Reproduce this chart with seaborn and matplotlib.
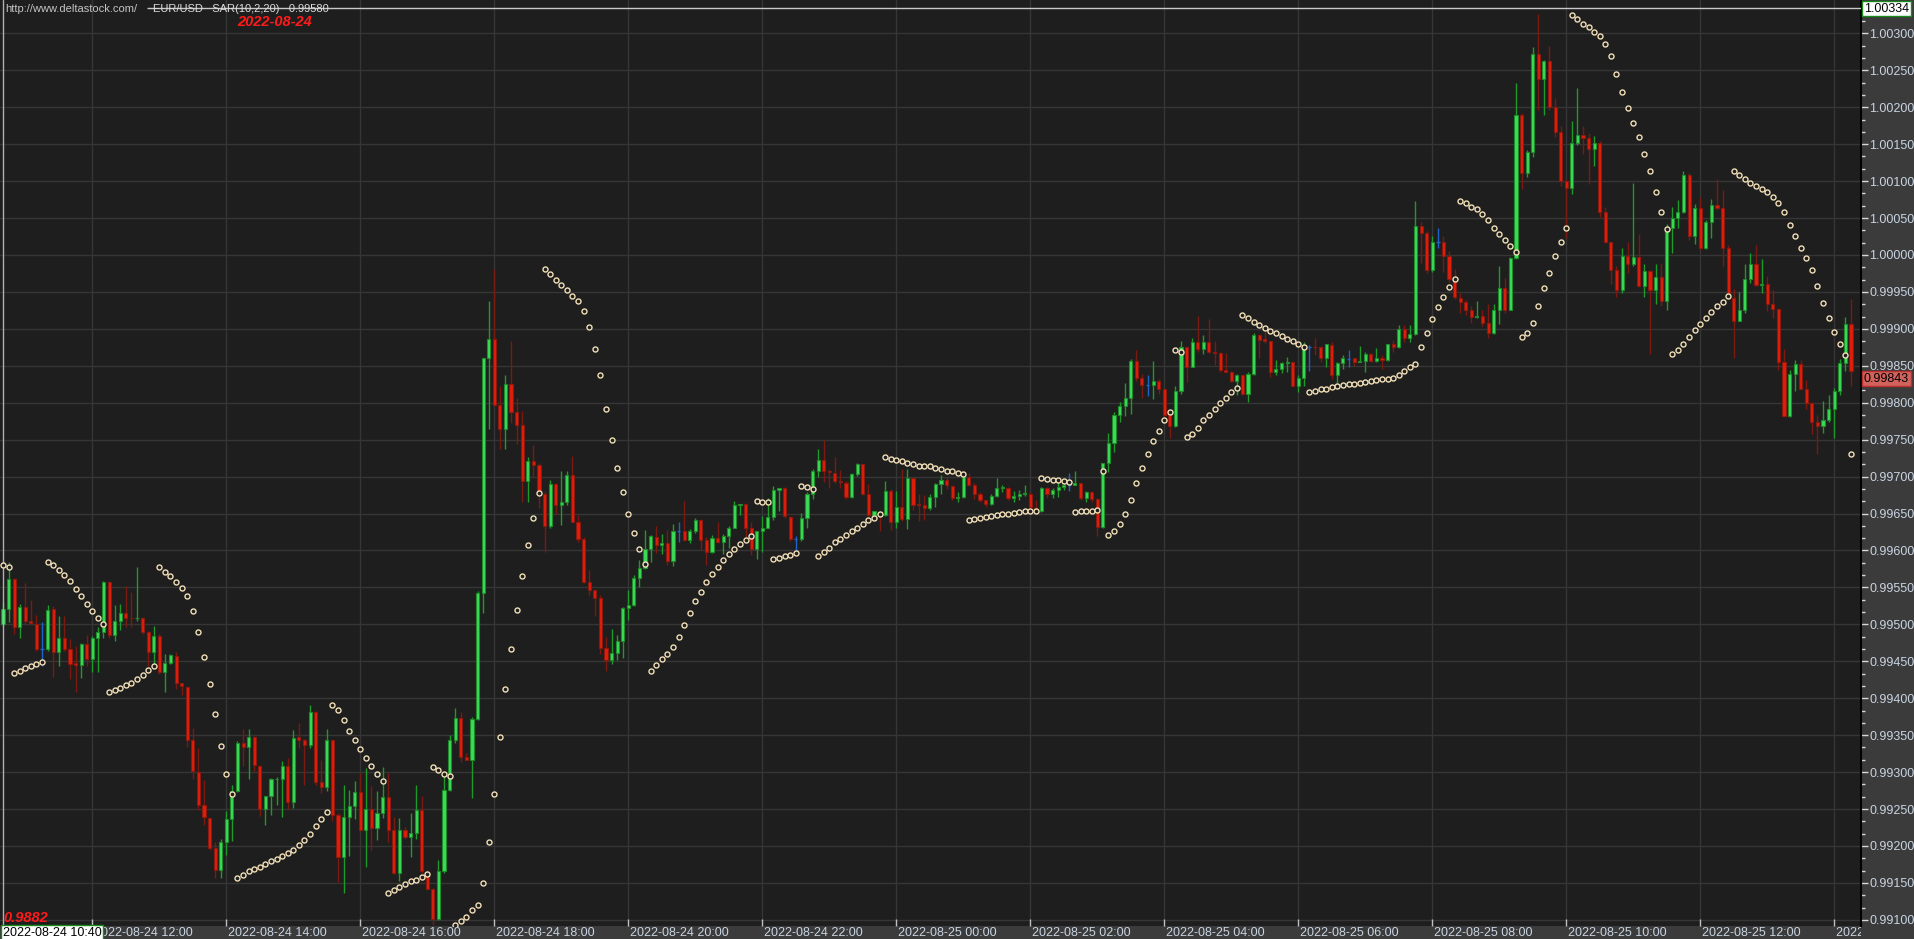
import numpy as np
import pandas as pd
import matplotlib
matplotlib.use("Agg")
import matplotlib.pyplot as plt
import matplotlib.transforms as mtransforms
from matplotlib import font_manager
import seaborn as sns

sns.set_theme(style="dark")
_names = {f.name for f in font_manager.fontManager.ttflist}
AXIS_FONT = "Liberation Sans Narrow" if "Liberation Sans Narrow" in _names else "Liberation Sans"
plt.rcParams["font.family"] = [AXIS_FONT, "DejaVu Sans"]

# ---------------- data (prices in points above 0.99000; 1 point = 0.00001) ----------------
symbol = "EUR/USD"
indicator = "SAR(10,2,20)"
indicator_value = "0.99580"
start_time = "2022-08-24 10:40"
bar_minutes = 5
top_price = 1.00334
last_price = 0.99843

opens = [
    500, 521, 562, 496, 524, 505, 501, 467, 467, 521,
    463, 482, 466, 448, 445, 474, 453, 481, 489, 557,
    486, 504, 515, 509, 508, 508, 489, 462, 484, 435,
    448, 457, 420, 415, 343, 300, 256, 238, 197, 168,
    205, 236, 274, 340, 334, 348, 308, 250, 267, 290,
    290, 308, 259, 347, 344, 337, 381, 287, 280, 343,
    242, 185, 239, 254, 273, 222, 250, 224, 245, 266,
    222, 164, 222, 212, 218, 249, 164, 142, 101, 166,
    276, 343, 373, 321, 317, 372, 542, 860, 886, 797,
    764, 825, 788, 770, 694, 721, 716, 677, 633, 690,
    662, 665, 702, 639, 615, 557, 547, 535, 468, 452,
    461, 477, 522, 526, 563, 576, 602, 618, 607, 610,
    586, 626, 626, 614, 626, 641, 614, 598, 617, 611,
    620, 631, 662, 663, 631, 602, 626, 631, 645, 682,
    685, 645, 615, 615, 644, 677, 708, 722, 707, 705,
    694, 692, 672, 703, 717, 677, 648, 652, 648, 681,
    638, 659, 643, 698, 663, 662, 657, 673, 690, 695,
    687, 671, 673, 700, 689, 677, 668, 663, 674, 685,
    685, 671, 674, 677, 677, 657, 653, 685, 677, 682,
    686, 689, 689, 691, 671, 679, 669, 632, 718, 746,
    783, 796, 807, 857, 834, 824, 824, 830, 818, 783,
    769, 816, 876, 849, 882, 873, 882, 869, 867, 844,
    842, 830, 837, 812, 839, 891, 886, 883, 842, 846,
    854, 855, 823, 834, 876, 876, 875, 861, 878, 837,
    854, 859, 860, 855, 857, 866, 857, 861, 858, 879,
    876, 900, 888, 893, 1039, 1030, 980, 1017, 1017, 998,
    967, 942, 936, 926, 916, 917, 908, 895, 926, 955,
    926, 996, 1190, 1111, 1140, 1272, 1238, 1262, 1200, 1166,
    1100, 1090, 1151, 1163, 1158, 1143, 1152, 1058, 1017, 979,
    952, 998, 988, 997, 958, 978, 953, 970, 938, 1037,
    1050, 1058, 1108, 1026, 1063, 1009, 1045, 1067, 1063, 1009,
    942, 911, 925, 967, 988, 960, 961, 934, 927, 855,
    782, 839, 853, 819, 799, 774, 768, 776, 792, 816,
    854, 907,
]
highs = [
    530, 584, 563, 528, 556, 533, 512, 503, 526, 525,
    511, 511, 480, 471, 475, 485, 484, 496, 559, 559,
    526, 528, 552, 544, 577, 510, 491, 498, 487, 460,
    460, 462, 421, 417, 360, 333, 289, 238, 206, 209,
    248, 282, 342, 358, 358, 349, 310, 268, 292, 294,
    315, 319, 357, 366, 345, 391, 383, 316, 359, 344,
    245, 283, 276, 288, 299, 305, 281, 274, 307, 299,
    239, 238, 226, 245, 283, 268, 168, 143, 181, 295,
    350, 387, 381, 326, 375, 545, 860, 938, 981, 822,
    838, 884, 807, 789, 727, 743, 718, 680, 695, 691,
    708, 707, 728, 648, 618, 573, 547, 540, 483, 494,
    486, 524, 547, 567, 587, 628, 621, 633, 622, 628,
    636, 638, 667, 629, 644, 642, 618, 621, 638, 622,
    633, 667, 663, 664, 638, 627, 646, 671, 687, 685,
    686, 646, 620, 651, 679, 710, 737, 749, 710, 726,
    709, 694, 705, 718, 717, 690, 654, 653, 694, 683,
    680, 710, 710, 699, 676, 675, 677, 691, 702, 700,
    689, 679, 702, 705, 691, 679, 668, 677, 698, 689,
    686, 680, 682, 688, 679, 668, 686, 686, 684, 696,
    691, 705, 708, 692, 680, 680, 671, 719, 759, 787,
    801, 827, 859, 871, 839, 837, 857, 832, 818, 785,
    823, 884, 877, 888, 918, 891, 913, 883, 869, 867,
    843, 839, 837, 842, 894, 893, 896, 884, 858, 855,
    862, 855, 837, 882, 878, 887, 877, 880, 882, 855,
    864, 872, 861, 877, 868, 867, 874, 864, 880, 885,
    905, 905, 905, 1073, 1045, 1032, 1026, 1036, 1026, 1005,
    981, 949, 939, 931, 938, 926, 933, 934, 985, 969,
    997, 1233, 1192, 1142, 1281, 1326, 1264, 1283, 1212, 1174,
    1102, 1181, 1226, 1175, 1165, 1161, 1154, 1065, 1018, 985,
    1009, 1017, 1098, 1029, 988, 980, 988, 989, 1042, 1065,
    1075, 1113, 1111, 1069, 1078, 1047, 1076, 1103, 1088, 1013,
    954, 950, 988, 1003, 1014, 995, 971, 953, 928, 873,
    844, 858, 858, 831, 801, 784, 802, 810, 820, 859,
    916, 940,
]
lows = [
    498, 503, 487, 482, 500, 499, 464, 443, 464, 429,
    444, 464, 426, 409, 428, 444, 436, 435, 481, 481,
    478, 493, 496, 496, 505, 487, 444, 444, 433, 409,
    447, 413, 405, 334, 290, 249, 229, 195, 157, 156,
    188, 207, 273, 308, 290, 301, 240, 228, 242, 256,
    239, 250, 252, 332, 283, 333, 283, 272, 275, 234,
    151, 137, 186, 236, 220, 171, 194, 208, 238, 206,
    162, 153, 209, 185, 209, 164, 141, 93, 100, 164,
    274, 340, 314, 316, 265, 370, 515, 765, 795, 737,
    737, 772, 744, 666, 666, 700, 657, 598, 631, 650,
    634, 662, 638, 612, 556, 540, 511, 460, 437, 447,
    452, 454, 506, 525, 550, 575, 584, 597, 595, 581,
    579, 612, 613, 610, 623, 601, 581, 596, 610, 595,
    604, 630, 648, 618, 594, 588, 598, 630, 641, 654,
    644, 613, 595, 613, 631, 669, 700, 693, 685, 692,
    684, 670, 671, 701, 675, 647, 647, 627, 647, 628,
    631, 640, 629, 655, 640, 641, 655, 659, 677, 683,
    668, 665, 671, 687, 670, 665, 659, 661, 673, 679,
    668, 665, 668, 674, 652, 653, 652, 671, 671, 672,
    682, 681, 688, 668, 665, 665, 620, 630, 706, 733,
    774, 782, 785, 830, 807, 809, 805, 812, 780, 752,
    767, 812, 828, 848, 868, 866, 867, 851, 841, 841,
    828, 810, 810, 801, 837, 861, 881, 835, 837, 840,
    841, 822, 815, 823, 843, 864, 855, 849, 832, 827,
    846, 848, 850, 855, 842, 855, 855, 846, 857, 869,
    874, 882, 882, 891, 989, 976, 977, 1009, 977, 963,
    941, 922, 919, 908, 915, 904, 888, 893, 907, 922,
    925, 995, 1089, 1106, 1132, 1196, 1190, 1196, 1159, 1094,
    1023, 1083, 1149, 1136, 1096, 1121, 1052, 1016, 961, 943,
    949, 976, 985, 957, 943, 866, 933, 931, 926, 1003,
    1036, 1057, 1020, 1015, 1007, 1008, 1023, 1061, 985, 940,
    861, 910, 922, 962, 958, 949, 924, 915, 844, 781,
    781, 816, 818, 791, 757, 731, 759, 774, 752, 811,
    843, 822,
]
closes = [
    521, 562, 496, 524, 504, 502, 467, 467, 520, 463,
    482, 467, 447, 445, 474, 453, 481, 489, 557, 486,
    504, 515, 509, 508, 509, 489, 463, 484, 435, 448,
    458, 420, 417, 343, 301, 256, 239, 197, 168, 205,
    236, 274, 340, 334, 348, 309, 250, 267, 290, 291,
    308, 259, 346, 344, 337, 381, 287, 280, 343, 242,
    185, 239, 254, 273, 222, 250, 224, 245, 266, 222,
    164, 222, 212, 218, 249, 166, 142, 101, 166, 276,
    343, 373, 321, 317, 372, 543, 860, 886, 797, 764,
    825, 788, 770, 694, 721, 716, 678, 633, 690, 662,
    665, 702, 639, 616, 557, 547, 535, 468, 452, 461,
    477, 522, 526, 563, 576, 602, 619, 607, 610, 586,
    626, 626, 614, 626, 641, 614, 598, 617, 611, 620,
    631, 661, 663, 631, 602, 626, 631, 645, 682, 685,
    646, 615, 615, 644, 677, 708, 722, 708, 706, 694,
    693, 672, 703, 717, 677, 648, 653, 648, 681, 638,
    659, 643, 698, 662, 662, 657, 673, 690, 695, 688,
    671, 673, 700, 689, 677, 668, 663, 674, 685, 686,
    671, 674, 677, 678, 659, 653, 685, 677, 682, 686,
    689, 689, 691, 671, 679, 669, 632, 718, 746, 783,
    796, 807, 857, 834, 824, 824, 830, 818, 783, 769,
    816, 876, 849, 882, 873, 882, 869, 867, 844, 842,
    830, 837, 812, 839, 891, 885, 883, 842, 846, 854,
    855, 823, 834, 878, 876, 875, 861, 879, 837, 854,
    860, 859, 855, 857, 866, 857, 861, 858, 879, 876,
    900, 888, 893, 1039, 1030, 980, 1017, 1017, 998, 967,
    943, 936, 926, 916, 917, 908, 895, 926, 955, 926,
    996, 1190, 1111, 1140, 1272, 1238, 1262, 1200, 1166, 1100,
    1090, 1151, 1163, 1158, 1143, 1152, 1058, 1017, 979, 952,
    998, 988, 997, 958, 978, 953, 970, 938, 1037, 1050,
    1058, 1108, 1026, 1063, 1009, 1045, 1067, 1063, 1009, 945,
    911, 925, 967, 988, 960, 961, 934, 927, 855, 782,
    839, 853, 819, 799, 774, 768, 776, 792, 816, 854,
    907, 843,
]
sar = [
    581, 578, 434, 437, 441, 444, 447, 449, 585, 580,
    573, 567, 559, 548, 538, 527, 518, 509, 501, 409,
    411, 414, 418, 421, 426, 432, 438, 444, 577, 571,
    565, 558, 549, 538, 518, 490, 456, 419, 379, 335,
    298, 270, 156, 161, 166, 169, 172, 176, 180, 183,
    187, 191, 194, 201, 208, 216, 227, 237, 246, 391,
    384, 370, 356, 343, 331, 319, 308, 298, 288, 137,
    141, 144, 148, 152, 154, 158, 162, 307, 303, 298,
    295, 93, 98, 104, 113, 120, 150, 205, 270, 347,
    412, 467, 519, 565, 607, 644, 678, 981, 974, 966,
    960, 952, 945, 938, 924, 902, 873, 837, 792, 749,
    712, 679, 650, 624, 602, 582, 437, 445, 453, 460,
    470, 483, 499, 516, 531, 544, 557, 568, 578, 587,
    595, 602, 609, 614, 620, 667, 666, 665, 589, 590,
    593, 594, 596, 687, 686, 683, 593, 598, 604, 611,
    616, 621, 626, 631, 636, 641, 644, 649, 727, 724,
    723, 721, 718, 717, 715, 715, 714, 711, 710, 708,
    707, 705, 704, 641, 643, 644, 645, 646, 648, 649,
    650, 651, 652, 653, 654, 654, 698, 697, 696, 695,
    694, 693, 652, 653, 654, 654, 655, 708, 621, 627,
    636, 650, 668, 691, 712, 731, 748, 762, 776, 787,
    871, 869, 753, 758, 766, 776, 784, 792, 800, 806,
    814, 820, 919, 915, 909, 905, 901, 897, 894, 890,
    886, 883, 880, 876, 815, 816, 818, 819, 821, 823,
    824, 825, 826, 827, 828, 830, 831, 832, 832, 834,
    837, 843, 848, 853, 875, 895, 913, 929, 943, 956,
    968, 1073, 1070, 1065, 1062, 1056, 1047, 1037, 1029, 1020,
    1012, 1004, 889, 895, 908, 931, 955, 976, 998, 1017,
    1036, 1325, 1319, 1313, 1308, 1302, 1297, 1286, 1269, 1245,
    1221, 1199, 1178, 1159, 1137, 1114, 1085, 1058, 1035, 866,
    871, 880, 889, 898, 907, 915, 923, 931, 937, 945,
    1113, 1108, 1103, 1098, 1094, 1089, 1085, 1079, 1071, 1058,
    1040, 1025, 1010, 996, 979, 958, 935, 914, 896, 880,
    864, 731,
]

BASE, POINT = 0.99, 1e-5
o = BASE + np.array(opens) * POINT
h = BASE + np.array(highs) * POINT
l = BASE + np.array(lows) * POINT
c = BASE + np.array(closes) * POINT
s = BASE + np.array(sar) * POINT
n = len(o)
times = pd.date_range(start_time, periods=n, freq=f"{bar_minutes}min")
df = pd.DataFrame({"t": times, "i": np.arange(n), "open": o, "high": h,
                   "low": l, "close": c, "sar": s})

# ---------------- figure / layout ----------------
W, H = 1915, 939
PLOT_R, PLOT_B = 1861, 926
BAR_PX, X0_PX = 5.583, 3.0
BG = "#1e1e1e"
PANEL = "#3b3b3b"
XLIM = ((0 - X0_PX) / BAR_PX, (PLOT_R - X0_PX) / BAR_PX)
YLIM = (0.990917, 1.003451)

fig = plt.figure(figsize=(W / 100, H / 100), dpi=100, facecolor=PANEL)
ax = fig.add_axes([0, (H - PLOT_B) / H, PLOT_R / W, PLOT_B / H])
ax.set_facecolor(BG)

# grid
for lev in np.arange(0.9910, 1.00301, 0.0005):
    ax.axhline(lev, color="#363636", lw=1.0, zorder=0)
label_idx = [i for i in range(n) if times[i].minute == 0 and times[i].hour % 2 == 0]
for i in label_idx:
    ax.axvline(i, color="#363636", lw=1.0, zorder=0)

# candles
up = df["close"] > df["open"]
dn = df["close"] < df["open"]
eq = df["close"] == df["open"]
GREEN_FILL, GREEN_EDGE, GREEN_WICK = "#3cdc5a", "#1e8c28", "#1e9a2a"
RED_FILL, RED_EDGE, RED_WICK = "#e11e0a", "#8c190f", "#7a1a10"
BLUE = "#1e64c8"

ax.vlines(df["i"][up], df["low"][up], df["high"][up], color=GREEN_WICK, lw=1.0, zorder=2)
ax.vlines(df["i"][dn], df["low"][dn], df["high"][dn], color=RED_WICK, lw=1.0, zorder=2)
ax.vlines(df["i"][eq], df["low"][eq], df["high"][eq], color=BLUE, lw=1.0, zorder=2)
ax.bar(df["i"][up], (df["close"] - df["open"])[up], bottom=df["open"][up], width=0.56,
       color=GREEN_FILL, edgecolor=GREEN_EDGE, linewidth=0.8, zorder=3)
ax.bar(df["i"][dn], (df["open"] - df["close"])[dn], bottom=df["close"][dn], width=0.56,
       color=RED_FILL, edgecolor=RED_EDGE, linewidth=0.8, zorder=3)
ax.hlines(df["close"][eq], df["i"][eq] - 0.3, df["i"][eq] + 0.3, color=BLUE, lw=1.0, zorder=3)

# parabolic SAR dots
sns.scatterplot(data=df, x="i", y="sar", ax=ax, marker="o", s=13, color=BG,
                edgecolor="#f2dfb8", linewidth=1.0, zorder=5, legend=False)

# top price line (starts after the site caption) and left border
ax.hlines(top_price, (147 - X0_PX) / BAR_PX, XLIM[1], color="#c8c8c8", lw=1.0, zorder=4)
ax.axvline((2.7 - X0_PX) / BAR_PX, color="#b0b0b0", lw=1.0, zorder=4)

# axes styling
for side in ["top", "left", "bottom"]:
    ax.spines[side].set_visible(False)
ax.spines["right"].set_visible(True)
ax.spines["right"].set_color("black")
ax.spines["right"].set_linewidth(1.5)
ax.set_xlabel("")
ax.set_ylabel("")
ax.yaxis.tick_right()
major = np.round(np.arange(0.9910, 1.00301, 0.0005), 5)
ax.set_yticks(major)
ax.set_yticklabels([f"{v:.5f}" for v in major])
minor = [v + k * 0.0005 / 3 for v in np.arange(0.9905, 1.0035, 0.0005) for k in (1, 2)]
ax.set_yticks(minor, minor=True)
ax.tick_params(axis="y", which="major", direction="out", length=5, width=1,
               color="#d8d8d8", labelcolor="#c8d4e2", labelsize=9, pad=1, right=True, left=False)
ax.tick_params(axis="y", which="minor", direction="out", length=3, width=1,
               color="#d8d8d8", right=True, left=False)
ax.set_xticks(label_idx)
ax.tick_params(axis="x", which="major", direction="in", length=5, width=1,
               color="#c0c0c0", labelbottom=False, bottom=True)
ax.grid(False)
ax.set_autoscale_on(False)
ax.set_xlim(*XLIM)
ax.set_ylim(*YLIM)

# bottom date band
axb = fig.add_axes([0, 0, PLOT_R / W, (H - PLOT_B) / H])
axb.set_facecolor(PANEL)
axb.axis("off")
for i in label_idx:
    axb.text(i + 0.35, 0.45, times[i].strftime("%Y-%m-%d %H:%M"),
             ha="left", va="center", fontsize=9, color="#c8d4e2", clip_on=True)
axb.set_xlim(*XLIM)
axb.set_ylim(0, 1)
fig.text(3 / W, 6.5 / H, times[0].strftime("%Y-%m-%d %H:%M"), ha="left", va="center",
         fontsize=9, color="black",
         bbox=dict(boxstyle="square,pad=0.12", fc="white", ec="#1a8a1a", lw=1.0))

# right-axis price boxes
fig.text(1864 / W, 1 - 8.5 / H, f"{top_price:.5f}", ha="left", va="center", fontsize=9,
         color="black", bbox=dict(boxstyle="square,pad=0.15", fc="white", ec="#1a8a1a", lw=1.0))
trans = mtransforms.blended_transform_factory(fig.transFigure, ax.transData)
box_trans = trans + mtransforms.ScaledTranslation(0, -8 / 100, fig.dpi_scale_trans)
fig.text(1864 / W, last_price, f"{last_price:.5f}", transform=box_trans, ha="left",
         va="center", fontsize=9, color="black",
         bbox=dict(boxstyle="square,pad=0.12", fc="#d2625c", ec="#b83030", lw=1.0))

# header texts
fig.text(5 / W, 1 - 8.5 / H, "http://www.deltastock.com/", ha="left", va="center",
         fontsize=8, color="#c4c4c4", family=["Liberation Sans", "DejaVu Sans"])
fig.text(153 / W, 1 - 8.5 / H, f"{symbol}   {indicator}   {indicator_value}", ha="left",
         va="center", fontsize=8, color="#dcdcdc", family=["Liberation Sans", "DejaVu Sans"])
fig.text(237 / W, 1 - 22 / H, "2022-08-24", ha="left", va="center", fontsize=10.5,
         color="#ff1a1a", fontweight="bold", fontstyle="italic",
         family=["Liberation Sans", "DejaVu Sans"])
fig.text(3 / W, 1 - 918 / H, "0.9882", ha="left", va="center", fontsize=10.5,
         color="#ff1a1a", fontweight="bold", fontstyle="italic",
         family=["Liberation Sans", "DejaVu Sans"])

fig.savefig("out.png", dpi=100, facecolor=PANEL)
